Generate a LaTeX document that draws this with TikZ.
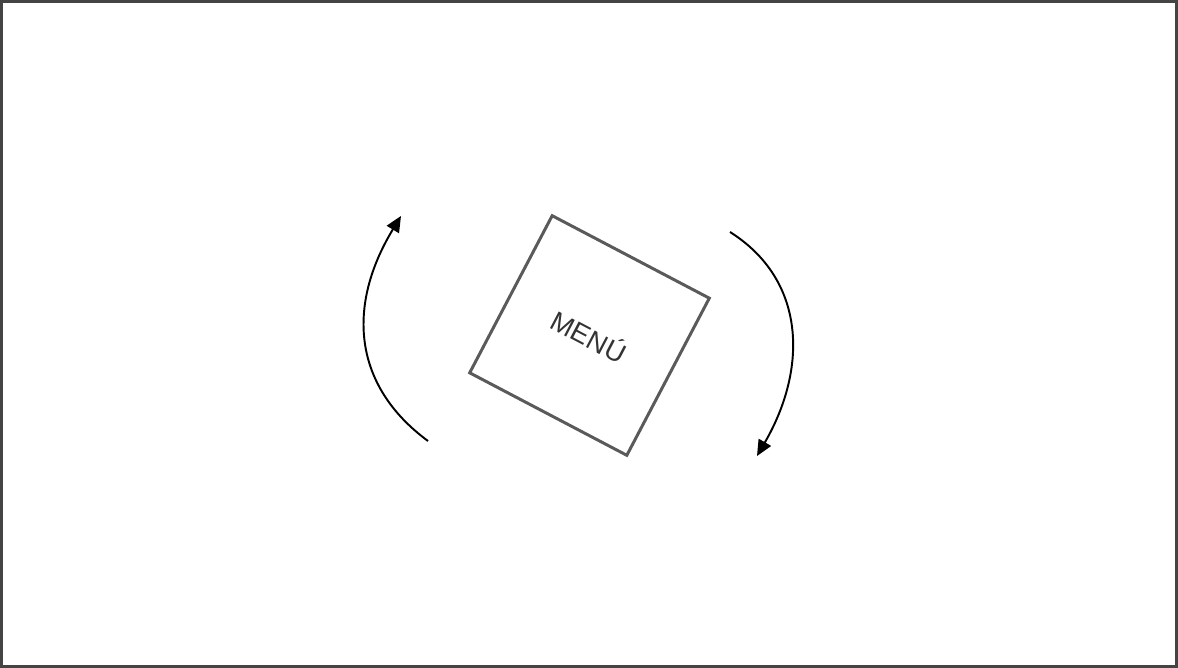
\documentclass[tikz,border=0pt]{standalone}
\usepackage{fontspec}
\setmainfont{Liberation Sans}
\usepackage{tikz}
\usetikzlibrary{arrows.meta}
\definecolor{framegrey}{RGB}{68,68,68}
\definecolor{boxgrey}{RGB}{90,90,90}
\definecolor{textgrey}{RGB}{51,51,51}
\tikzset{
  turn/.style={-{Triangle[length=9pt,width=8pt]}, line width=1.1pt, draw=black},
  menubox/.style={
    draw=boxgrey,
    line width=1.7pt,
    fill=white,
    minimum size=3.55cm,
    inner sep=0pt,
    text=textgrey,
    font=\fontsize{15.5}{18}\selectfont
  }
}
\begin{document}
\begin{tikzpicture}[x=0.02cm, y=-0.02cm]
  \useasboundingbox (0,0) rectangle (1178,668);
  \draw[framegrey, line width=1.8pt] (1.6,1.6) rectangle (1176.4,666.4);

  \node[menubox, rotate=-27.7] (menu) at (589.5,335.5) {MENÚ};

  % rotation arrows
  \coordinate (lstart) at (428,441);
  \coordinate (lend) at (401,216);
  \coordinate (rstart) at (730,232);
  \coordinate (rend) at (757,456);
  \draw[turn] (lstart) .. controls (352,385) and (347,305) .. (lend);
  \draw[turn] (rstart) .. controls (806,280) and (808,368) .. (rend);
\end{tikzpicture}
\end{document}
